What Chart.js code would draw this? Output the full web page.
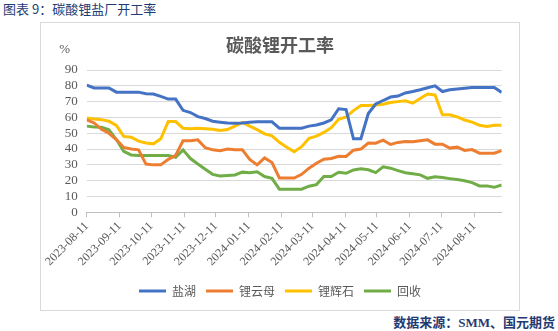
<!DOCTYPE html>
<html>
<head>
<meta charset="utf-8">
<script src="https://cdn.jsdelivr.net/npm/chart.js@4"></script>
<style>
body { margin: 0; background: #fff; width: 558px; height: 331px; position: relative; overflow: hidden; }
#fig-title { position: absolute; left: 3px; top: 2px; font: 13px "Noto Sans CJK SC"; line-height: 14px; color: #1f3b73; white-space: nowrap; }
#box { position: absolute; left: 40px; top: 22px; width: 478px; height: 287px; border: 1px solid #d9d9d9; }
#box canvas { display: block; }
#source { position: absolute; right: 3px; top: 314px; font: bold 13px "Noto Sans CJK SC"; line-height: 16px; color: #1f3b73; white-space: nowrap; }
#source span { font-family: "Liberation Serif"; }
</style>
</head>
<body>
<div id="fig-title">图表 9：碳酸锂盐厂开工率</div>
<div id="box"><canvas id="rateChart" width="478" height="287"></canvas></div>
<div id="source">数据来源：<span>SMM</span>、国元期货</div>
<script>
// weekly dates
const dates = [
    '2023-08-11', '2023-08-18', '2023-08-25', '2023-09-01', '2023-09-08', '2023-09-15', '2023-09-22', '2023-09-29',
    '2023-10-06', '2023-10-13', '2023-10-20', '2023-10-27', '2023-11-03', '2023-11-10', '2023-11-17', '2023-11-24',
    '2023-12-01', '2023-12-08', '2023-12-15', '2023-12-22', '2023-12-29', '2024-01-05', '2024-01-12', '2024-01-19',
    '2024-01-26', '2024-02-02', '2024-02-09', '2024-02-16', '2024-02-23', '2024-03-01', '2024-03-08', '2024-03-15',
    '2024-03-22', '2024-03-29', '2024-04-05', '2024-04-12', '2024-04-19', '2024-04-26', '2024-05-03', '2024-05-10',
    '2024-05-17', '2024-05-24', '2024-05-31', '2024-06-07', '2024-06-14', '2024-06-21', '2024-06-28', '2024-07-05',
    '2024-07-12', '2024-07-19', '2024-07-26', '2024-08-02', '2024-08-09', '2024-08-16', '2024-08-23', '2024-08-30',
    '2024-09-06'
];

const yanhu = [
    80.4, 78.6, 78.6, 78.6, 76, 76, 76, 76, 75, 74.8, 73.3, 71.6, 71.6, 64.5, 63.1, 60.5,
    59.3, 57.6, 57, 56.5, 56.3, 56.5, 57, 57.2, 57.2, 57.2, 53.2, 53.2, 53.2, 53.2, 54.5, 55.2,
    56.5, 58.5, 65.5, 65, 46.5, 46.5, 62.5, 68.5, 70.7, 72.9, 73.5, 75.5, 76.4, 77.5, 78.8, 80,
    76.4, 77.5, 78, 78.5, 79, 79, 79, 79, 75.8
];
const liyunmu = [
    58.5, 56.5, 52.5, 50, 46, 41, 40, 39.5, 30.5, 30, 30, 33.5, 36, 45.2, 45.2, 45.8,
    40.8, 39.5, 39, 40, 39.5, 39.5, 33.5, 30, 34.4, 31.5, 21.7, 21.7, 21.7, 24, 27.9, 31,
    33.6, 34, 35.4, 35.3, 39.3, 40, 43.8, 43.7, 45.6, 42.9, 44.2, 44.8, 44.6, 45.2, 45.8, 43.1,
    43.1, 40.6, 41.2, 39.1, 39.7, 37.4, 37.4, 37.4, 39
];
const lihuishi = [
    59.6, 59, 58.6, 57.6, 55, 48, 47.5, 45, 43.8, 43.3, 46.5, 57.4, 57.4, 53.2, 52.8, 53.2,
    52.8, 52.5, 51.8, 52.3, 54.5, 56.8, 54.5, 52.3, 49.6, 48.4, 44.3, 41.2, 38.3, 41.5, 46.8, 48.2,
    50.5, 53.5, 58.8, 60.3, 64.3, 67.6, 67.6, 67.8, 68.4, 69.4, 70, 70.5, 69, 72, 74.8, 74.2,
    61.7, 61.7, 60.4, 58.4, 57, 55.1, 54.3, 55, 55.1
];
const huishou = [
    54.5, 54, 53.8, 52.2, 46, 38.5, 36.3, 36, 36, 36, 36, 36, 34.8, 39.5, 34, 30.5,
    27.2, 24, 23, 23.3, 23.6, 25.4, 25, 25.6, 22.6, 21.5, 14.6, 14.6, 14.6, 14.6, 16.5, 17.5,
    22.6, 22.6, 25.3, 24.7, 26.8, 27.5, 26.9, 25.1, 28.8, 27.9, 26.4, 25, 24.4, 23.7, 21.5, 22.5,
    22, 21.3, 20.7, 20, 18.8, 16.7, 16.7, 15.8, 17.3
];

const seriesNames = ['盐湖', '锂云母', '锂辉石', '回收'];
const seriesColors = ['#4472c4', '#ed7d31', '#ffc000', '#70ad47'];

// x axis labels, one per month
const tickDates = [
    '2023-08-11', '2023-09-11', '2023-10-11', '2023-11-11', '2023-12-11', '2024-01-11', '2024-02-11',
    '2024-03-11', '2024-04-11', '2024-05-11', '2024-06-11', '2024-07-11', '2024-08-11'
];
const yMin = 0, yMax = 90, yStep = 10;

const DAY = 86400000;
function dayOf(d) {
    return Math.round((Date.parse(d) - Date.parse(dates[0])) / DAY);
}

function toPoints(values) {
    return values.map((v, i) => ({ x: dayOf(dates[i]), y: v }));
}

// "%" above the value axis
const percentLabel = {
    id: 'percentLabel',
    afterDraw(chart) {
        const ctx = chart.ctx;
        ctx.save();
        ctx.font = '13px "Liberation Serif"';
        ctx.fillStyle = '#595959';
        ctx.textAlign = 'center';
        ctx.textBaseline = 'middle';
        ctx.fillText('%', chart.scales.y.right - 22, chart.chartArea.top - 20);
        ctx.restore();
    }
};

const ctx = document.getElementById('rateChart').getContext('2d');
const rateChart = new Chart(ctx, {
    type: 'line',
    data: {
        datasets: [yanhu, liyunmu, lihuishi, huishou].map((vals, i) => ({
            label: seriesNames[i],
            data: toPoints(vals),
            borderColor: seriesColors[i],
            backgroundColor: seriesColors[i],
            borderWidth: 3,
            pointRadius: 0,
            tension: 0,
            fill: false
        }))
    },
    options: {
        responsive: false,
        animation: false,
        devicePixelRatio: 1,
        layout: { padding: { top: 0, left: 0, right: 0, bottom: 3 } },
        plugins: {
            title: {
                display: true,
                text: '碳酸锂开工率',
                color: '#595959',
                font: { family: 'Noto Sans CJK SC', size: 18, weight: 'bold' },
                padding: { top: 11, bottom: 14.4 }
            },
            legend: {
                position: 'bottom',
                labels: {
                    usePointStyle: true,
                    pointStyle: 'line',
                    pointStyleWidth: 27,
                    color: '#595959',
                    font: { family: 'Noto Sans CJK SC', size: 12 },
                    padding: 10
                }
            },
            tooltip: { enabled: false }
        },
        scales: {
            x: {
                type: 'linear',
                min: 0,
                max: dayOf(dates[dates.length - 1]),
                afterBuildTicks(scale) {
                    scale.ticks = tickDates.map(d => ({ value: dayOf(d) }));
                },
                afterFit(scale) { scale.height = 62.7; },
                ticks: {
                    autoSkip: false,
                    minRotation: 45,
                    maxRotation: 45,
                    padding: 2,
                    color: '#595959',
                    font: { family: 'Liberation Serif', size: 12 },
                    callback(value) {
                        const d = tickDates.find(t => dayOf(t) === value);
                        return d || '';
                    }
                },
                grid: { drawOnChartArea: false, drawTicks: true, tickLength: 5, color: '#bfbfbf' },
                border: { color: '#bfbfbf' }
            },
            y: {
                min: yMin,
                max: yMax,
                afterFit(scale) { scale.width = 45.7; },
                ticks: {
                    stepSize: yStep,
                    autoSkip: false,
                    padding: 9,
                    color: '#595959',
                    font: { family: 'Liberation Serif', size: 13 }
                },
                grid: { color: '#d9d9d9', drawTicks: false },
                border: { display: false }
            },
            y2: {
                position: 'right',
                afterFit(scale) { scale.width = 17.3; },
                ticks: { display: false },
                grid: { display: false },
                border: { display: false }
            }
        }
    },
    plugins: [percentLabel]
});
</script>
</body>
</html>
